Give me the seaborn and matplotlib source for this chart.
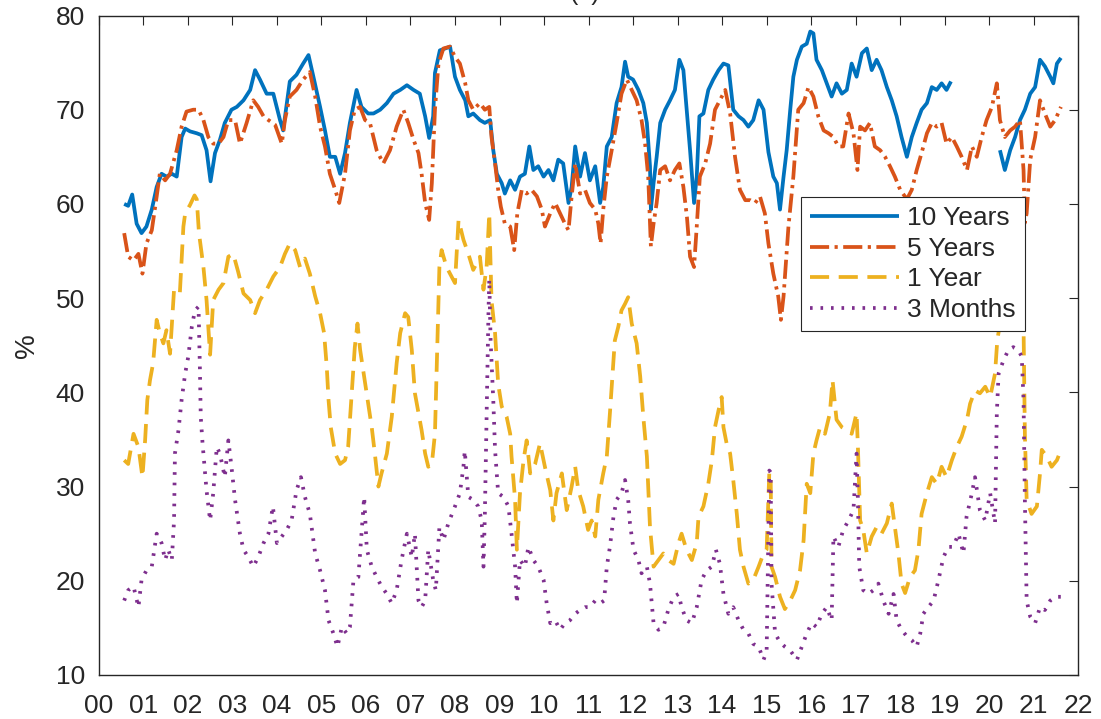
import numpy as np
import pandas as pd
import matplotlib
matplotlib.use("Agg")
import matplotlib.pyplot as plt
import seaborn as sns

# ---------------- data (years since 2000, percent) ----------------
years_10y = [0.57, 0.66, 0.75, 0.85, 0.96, 1.07, 1.19, 1.30, 1.41, 1.52, 1.64, 1.75, 1.86, 1.94,
             2.05, 2.20, 2.31, 2.42, 2.51, 2.61, 2.72, 2.83, 2.98, 3.10, 3.25, 3.40, 3.51, 3.62,
             3.77, 3.92, 4.07, 4.14, 4.29, 4.44, 4.59, 4.71, 4.82, 4.97, 5.08, 5.19, 5.31, 5.42,
             5.53, 5.64, 5.79, 5.90, 6.05, 6.17, 6.32, 6.47, 6.62, 6.77, 6.92, 7.07, 7.21, 7.33,
             7.42, 7.51, 7.55, 7.66, 7.78, 7.89, 8.00, 8.11, 8.23, 8.30, 8.41, 8.56, 8.67, 8.79,
             8.86, 8.94, 9.05, 9.12, 9.24, 9.35, 9.46, 9.57, 9.67, 9.76, 9.87, 9.99, 10.10, 10.21,
             10.32, 10.43, 10.55, 10.62, 10.70, 10.81, 10.92, 11.03, 11.15, 11.26, 11.33, 11.41,
             11.52, 11.63, 11.74, 11.82, 11.89, 12.00, 12.12, 12.23, 12.31, 12.38, 12.40, 12.46,
             12.53, 12.61, 12.72, 12.83, 12.94, 13.04, 13.13, 13.21, 13.28, 13.37, 13.43, 13.49,
             13.58, 13.69, 13.80, 13.92, 14.03, 14.14, 14.25, 14.37, 14.48, 14.59, 14.70, 14.82,
             14.93, 15.04, 15.15, 15.23, 15.30, 15.38, 15.45, 15.53, 15.60, 15.68, 15.79, 15.90,
             15.98, 16.05, 16.12, 16.24, 16.35, 16.46, 16.57, 16.69, 16.80, 16.91, 17.02, 17.14,
             17.25, 17.36, 17.47, 17.58, 17.70, 17.81, 17.92, 18.03, 18.15, 18.26, 18.37, 18.48,
             18.60, 18.71, 18.82, 18.93, 19.04, 19.14, 19.60, 20.24, 20.35, 20.47, 20.58, 20.69,
             20.80, 20.92, 21.03, 21.14, 21.25, 21.37, 21.44, 21.52, 21.61]
rate_10y = [60.0, 59.8, 61.0, 57.9, 56.9, 57.6, 59.4, 61.8, 63.2, 62.9, 63.2, 62.9, 67.1, 68.0,
            67.7, 67.5, 67.3, 65.7, 62.4, 65.4, 66.8, 68.6, 70.0, 70.3, 71.0, 72.1, 74.2, 73.2,
            71.7, 71.7, 68.9, 67.8, 73.0, 73.7, 74.9, 75.8, 73.5, 70.3, 67.8, 65.0, 65.0, 63.2,
            65.4, 68.6, 72.1, 70.3, 69.6, 69.6, 70.0, 70.7, 71.7, 72.1, 72.6, 72.1, 71.7, 69.3,
            67.0, 69.3, 73.9, 76.3, 76.5, 76.7, 73.5, 72.1, 71.0, 69.3, 69.6, 68.9, 68.6, 68.9,
            65.7, 63.2, 62.2, 61.1, 62.5, 61.5, 62.9, 63.2, 66.1, 63.6, 64.0, 62.9, 63.6, 62.5,
            64.7, 64.3, 60.1, 61.8, 66.1, 62.9, 65.4, 62.5, 64.0, 60.1, 61.8, 66.1,
            67.1, 70.7, 72.4, 75.1, 73.5, 73.2, 72.1, 70.7, 68.6, 64.0, 59.4, 62.2,
            65.0, 68.6, 70.0, 71.0, 72.1, 75.3, 74.2, 69.6, 65.7, 60.1, 62.9, 69.3,
            69.6, 72.1, 73.2, 74.2, 74.9, 74.7, 70.0, 69.3, 68.9, 68.2, 68.9, 71.0,
            70.0, 65.5, 62.9, 62.2, 59.4, 62.9, 65.7, 70.0, 73.5, 75.3, 76.7, 77.0,
            78.3, 78.1, 75.3, 74.2, 72.8, 71.4, 72.8, 71.7, 72.1, 74.9, 73.5, 76.0,
            76.5, 74.2, 75.3, 74.2, 72.4, 71.0, 69.3, 67.1, 65.0, 67.1, 68.6, 70.0,
            70.7, 72.4, 72.1, 72.8, 72.1, 73.0, np.nan, 65.7, 63.6, 65.7, 67.1, 68.9,
            70.0, 71.7, 72.4, 75.3, 74.6, 73.5, 72.8, 74.9, 75.5]

years_5y = [0.57, 0.66, 0.78, 0.89, 0.98, 1.07, 1.19, 1.30, 1.37, 1.49, 1.60, 1.75, 1.86, 1.97,
            2.12, 2.24, 2.35, 2.46, 2.57, 2.69, 2.80, 2.91, 3.06, 3.17, 3.32, 3.47, 3.58, 3.70,
            3.81, 3.96, 4.11, 4.18, 4.29, 4.44, 4.59, 4.74, 4.86, 4.97, 5.08, 5.19, 5.31, 5.40,
            5.53, 5.64, 5.75, 5.87, 5.98, 6.09, 6.24, 6.39, 6.54, 6.69, 6.84, 6.95, 7.07, 7.18,
            7.25, 7.33, 7.42, 7.48, 7.55, 7.63, 7.74, 7.89, 8.00, 8.11, 8.23, 8.30, 8.41, 8.56,
            8.67, 8.77, 8.82, 8.90, 8.97, 9.03, 9.12, 9.24, 9.33, 9.40, 9.50, 9.61, 9.72, 9.84,
            9.95, 10.02, 10.14, 10.25, 10.36, 10.47, 10.55, 10.62, 10.70, 10.81, 10.92, 11.03,
            11.15, 11.22, 11.27, 11.33, 11.41, 11.52, 11.63, 11.74, 11.86, 11.97, 12.08, 12.19,
            12.27, 12.34, 12.40, 12.46, 12.53, 12.61, 12.72, 12.83, 12.94, 13.04, 13.13, 13.21,
            13.28, 13.37, 13.43, 13.50, 13.62, 13.73, 13.84, 13.95, 14.07, 14.18, 14.29, 14.40,
            14.52, 14.63, 14.74, 14.85, 14.96, 15.04, 15.15, 15.26, 15.32, 15.38, 15.49, 15.60,
            15.71, 15.83, 15.94, 16.05, 16.16, 16.28, 16.39, 16.50, 16.61, 16.72, 16.84, 16.95,
            17.04, 17.10, 17.21, 17.32, 17.43, 17.55, 17.66, 17.77, 17.88, 18.00, 18.15, 18.26,
            18.37, 18.48, 18.60, 18.71, 18.82, 18.93, 19.04, 19.16, 19.27, 19.38, 19.50, 19.61,
            19.72, 19.83, 19.94, 20.06, 20.17, 20.24, 20.35, 20.47, 20.58, 20.69, 20.77, 20.80,
            20.84, 20.92, 21.03, 21.14, 21.25, 21.37, 21.48, 21.61]
rate_5y = [56.9, 54.4, 54.0, 54.7, 52.6, 55.8, 57.2, 60.8, 63.2, 62.5, 63.2, 65.7, 68.2, 69.8,
           70.0, 70.0, 68.9, 67.1, 66.4, 66.4, 67.1, 68.9, 68.9, 66.4, 68.6, 71.0, 70.3, 69.3,
           68.9, 68.4, 66.4, 68.9, 71.4, 72.1, 73.2, 74.0, 71.4, 68.2, 66.1, 63.2, 61.5, 60.1,
           63.2, 67.8, 70.0, 70.3, 68.9, 68.6, 65.7, 64.3, 65.7, 68.2, 70.0, 68.6, 66.8, 65.4,
           63.2, 60.1, 58.3, 62.2, 70.0, 74.9, 76.5, 76.7, 75.6, 74.9, 72.8, 71.0, 70.0, 70.7,
           70.0, 70.3, 67.1, 64.3, 61.5, 59.7, 57.9, 57.6, 55.1, 59.0, 61.5, 61.1, 61.5, 60.8,
           59.4, 57.6, 59.0, 60.1, 59.0, 57.9, 57.2, 60.8, 64.3, 61.1, 61.5, 60.1,
           59.4, 57.9, 55.8, 59.4, 62.9, 65.7, 68.6, 71.7, 73.2, 72.1, 71.0, 68.9,
           66.4, 62.9, 55.5, 57.9, 60.1, 63.6, 64.0, 62.5, 63.6, 64.3, 61.8, 58.6,
           54.4, 53.3, 57.6, 62.9, 64.3, 66.4, 70.0, 71.0, 72.1, 69.6, 65.0, 61.5,
           60.4, 60.4, 60.1, 60.8, 59.0, 55.8, 52.6, 50.2, 47.7, 50.2, 57.6, 62.9,
           70.0, 70.7, 72.4, 71.4, 69.3, 67.8, 67.5, 67.1, 66.1, 66.1, 69.6, 67.5,
           63.6, 68.2, 67.8, 68.6, 66.1, 65.7, 65.0, 64.0, 62.9, 61.5, 60.5, 61.5,
           63.6, 65.4, 67.5, 68.6, 68.2, 68.6, 66.4, 67.1, 66.1, 65.0, 63.6, 66.1,
           65.0, 67.1, 68.9, 70.3, 72.8, 68.9, 67.1, 67.8, 68.2, 68.9, 63.6, 58.0,
           59.0, 64.7, 67.1, 71.0, 69.6, 68.2, 68.9, 70.3]

years_1y = [0.57, 0.66, 0.78, 0.89, 0.98, 1.04, 1.09, 1.15, 1.22, 1.30, 1.37, 1.45, 1.52, 1.60,
            1.69, 1.82, 1.90, 1.94, 2.05, 2.15, 2.20, 2.25, 2.35, 2.42, 2.50, 2.57, 2.69, 2.80,
            2.91, 3.02, 3.13, 3.25, 3.40, 3.51, 3.62, 3.77, 3.92, 4.07, 4.18, 4.29, 4.41, 4.52,
            4.63, 4.74, 4.86, 4.97, 5.06, 5.12, 5.16, 5.21, 5.31, 5.42, 5.53, 5.60, 5.68, 5.75,
            5.81, 5.87, 5.98, 6.05, 6.13, 6.20, 6.28, 6.35, 6.47, 6.58, 6.69, 6.77, 6.88, 6.95,
            7.03, 7.10, 7.18, 7.25, 7.33, 7.40, 7.48, 7.55, 7.60, 7.65, 7.70, 7.81, 8.00, 8.08,
            8.19, 8.30, 8.41, 8.56, 8.64, 8.71, 8.77, 8.82, 8.90, 8.97, 9.05, 9.16, 9.24, 9.27,
            9.35, 9.39, 9.46, 9.54, 9.61, 9.69, 9.80, 9.91, 10.02, 10.14, 10.21, 10.28, 10.40,
            10.51, 10.62, 10.70, 10.77, 10.88, 10.99, 11.07, 11.15, 11.22, 11.33, 11.41, 11.48,
            11.52, 11.59, 11.67, 11.74, 11.82, 11.89, 11.97, 12.08, 12.16, 12.23, 12.31, 12.34,
            12.38, 12.46, 12.57, 12.68, 12.79, 12.91, 13.02, 13.09, 13.20, 13.32, 13.43, 13.47,
            13.58, 13.69, 13.77, 13.84, 13.92, 13.99, 14.03, 14.10, 14.18, 14.25, 14.33, 14.40,
            14.48, 14.59, 14.70, 14.82, 14.93, 15.00, 15.06, 15.09, 15.11, 15.19, 15.30, 15.41,
            15.53, 15.64, 15.75, 15.83, 15.90, 15.98, 16.05, 16.12, 16.20, 16.31, 16.42, 16.48,
            16.57, 16.69, 16.80, 16.91, 17.02, 17.05, 17.10, 17.17, 17.25, 17.36, 17.47, 17.58,
            17.70, 17.81, 17.88, 17.96, 18.03, 18.11, 18.22, 18.33, 18.41, 18.48, 18.60, 18.71,
            18.82, 18.93, 19.04, 19.16, 19.27, 19.38, 19.50, 19.57, 19.68, 19.79, 19.91, 20.02,
            20.13, 20.18, 20.23, 20.35, 20.50, 20.65, 20.77, 20.80, 20.84, 20.95, 21.07, 21.14,
            21.18, 21.29, 21.40, 21.52, 21.61]
rate_1y = [32.8, 32.4, 35.6, 34.2, 31.0, 34.9, 39.2, 41.3, 43.1, 47.7, 46.3, 45.2, 46.6, 44.1,
           50.9, 50.5, 57.6, 59.0, 59.9, 60.9, 60.5, 56.9, 53.3, 49.8, 44.0, 49.8, 50.9, 51.6,
           54.4, 54.7, 52.8, 50.5, 49.8, 48.4, 49.8, 50.9, 52.3, 53.3, 54.7, 55.8, 55.1, 53.3,
           54.2, 52.6, 50.2, 48.4, 46.3, 42.7, 39.2, 36.3, 33.5, 32.4, 32.8, 34.2, 39.9, 44.8,
           47.3, 44.5, 41.0, 38.8, 36.3, 33.5, 30.0, 31.4, 33.5, 37.4, 43.1, 46.3, 48.4, 48.0,
           44.5, 39.9, 37.8, 36.0, 33.5, 32.1, 32.4, 35.6, 44.5, 53.3, 55.1, 53.3, 51.6, 58.3,
           56.2, 54.7, 53.0, 54.4, 50.9, 53.3, 59.0, 49.8, 46.3, 40.9, 38.5, 37.4, 35.6, 33.2,
           28.6, 23.3, 29.3, 32.8, 34.9, 31.4, 32.4, 34.6, 32.1, 29.6, 26.4, 29.3, 31.4,
           27.5, 30.0, 32.1, 29.6, 27.9, 25.4, 26.4, 24.7, 28.6, 31.4, 33.2, 37.8,
           40.6, 45.5, 47.0, 48.7, 49.4, 50.1, 47.3, 45.2, 41.7, 37.4, 33.2, 30.0,
           25.7, 21.5, 22.2, 22.9, 22.2, 21.8, 24.0, 25.0, 23.3, 22.2, 24.0, 26.8,
           27.9, 30.3, 32.8, 36.3, 38.1, 39.5, 36.3, 34.6, 33.5, 30.7, 27.1, 23.3,
           21.5, 19.7, 20.1, 21.5, 22.9, 23.3, 31.5, 31.4, 21.5, 20.4, 18.3, 17.0,
           17.9, 19.0, 21.1, 24.3, 30.3, 29.3, 33.5, 34.9, 36.3, 35.6, 37.8, 41.3,
           37.1, 36.3, 36.0, 35.6, 37.8, 34.2, 26.4, 25.4, 22.9, 24.7, 25.7, 25.0,
           26.1, 28.2, 25.7, 22.9, 19.7, 18.7, 20.4, 21.1, 23.3, 27.1, 29.3, 31.0,
           30.3, 32.1, 31.0, 32.8, 34.2, 35.3, 37.1, 38.8, 40.2, 39.9, 40.6, 39.5,
           42.0, 45.5, 47.0, 52.0, 55.0, 52.0, 47.0, 35.6, 28.6, 27.1, 27.9, 31.4,
           33.9, 33.2, 32.1, 32.8, 33.9]

years_3m = [0.57, 0.66, 0.78, 0.89, 0.96, 1.07, 1.19, 1.30, 1.41, 1.49, 1.56, 1.64, 1.69, 1.71,
            1.79, 1.86, 1.94, 2.01, 2.09, 2.16, 2.24, 2.27, 2.29, 2.33, 2.42, 2.50, 2.57, 2.65,
            2.72, 2.83, 2.91, 2.98, 3.06, 3.17, 3.25, 3.36, 3.47, 3.58, 3.70, 3.81, 3.91, 4.00,
            4.11, 4.22, 4.33, 4.44, 4.54, 4.63, 4.74, 4.86, 4.97, 5.08, 5.16, 5.27, 5.36, 5.46,
            5.57, 5.64, 5.72, 5.83, 5.90, 5.96, 6.02, 6.13, 6.24, 6.35, 6.47, 6.58, 6.69, 6.80,
            6.92, 7.03, 7.10, 7.18, 7.25, 7.33, 7.40, 7.51, 7.57, 7.65, 7.74, 7.85, 8.00, 8.11,
            8.19, 8.22, 8.30, 8.41, 8.52, 8.60, 8.64, 8.67, 8.71, 8.75, 8.77, 8.80, 8.86, 8.90,
            8.97, 9.09, 9.20, 9.27, 9.35, 9.39, 9.46, 9.57, 9.65, 9.76, 9.87, 9.99, 10.06, 10.14,
            10.25, 10.36, 10.47, 10.58, 10.70, 10.81, 10.92, 11.03, 11.15, 11.26, 11.35, 11.41,
            11.48, 11.56, 11.63, 11.74, 11.82, 11.89, 11.93, 12.01, 12.12, 12.19, 12.31, 12.38,
            12.46, 12.57, 12.68, 12.79, 12.91, 13.02, 13.09, 13.20, 13.32, 13.43, 13.54, 13.65,
            13.77, 13.86, 13.95, 14.03, 14.14, 14.25, 14.37, 14.48, 14.59, 14.70, 14.82, 14.93,
            15.00, 15.06, 15.09, 15.11, 15.19, 15.30, 15.41, 15.53, 15.68, 15.79, 15.90, 16.01,
            16.12, 16.24, 16.35, 16.46, 16.50, 16.61, 16.72, 16.84, 16.95, 17.02, 17.05, 17.08,
            17.17, 17.28, 17.40, 17.51, 17.62, 17.74, 17.85, 17.92, 18.03, 18.15, 18.26, 18.37,
            18.45, 18.52, 18.63, 18.75, 18.86, 18.97, 19.08, 19.19, 19.31, 19.42, 19.49, 19.61,
            19.68, 19.79, 19.91, 20.02, 20.13, 20.17, 20.21, 20.32, 20.43, 20.54, 20.65, 20.73,
            20.77, 20.80, 20.84, 20.92, 21.03, 21.14, 21.25, 21.37, 21.48, 21.61]
rate_3m = [17.9, 19.0, 19.4, 17.2, 20.1, 21.1, 21.5, 25.0, 24.0, 22.2, 23.3, 22.2, 26.4, 33.5,
           36.0, 39.2, 42.0, 43.8, 47.0, 48.7, 49.1, 42.7, 37.4, 34.6, 29.6, 26.4, 29.3, 34.2,
           33.5, 31.0, 34.9, 32.1, 28.6, 25.0, 23.3, 22.5, 21.5, 22.5, 24.0, 25.0, 27.9, 24.0,
           24.7, 25.4, 26.4, 29.6, 31.0, 28.9, 27.1, 22.9, 21.1, 19.0, 15.8, 14.4, 13.0, 15.1,
           14.4, 15.1, 20.1, 20.4, 25.0, 28.9, 23.3, 21.5, 20.4, 19.4, 18.6, 17.6, 19.0, 22.2,
           25.0, 22.5, 25.0, 17.9, 17.2, 17.9, 23.3, 20.1, 19.0, 25.7, 24.3, 26.1, 27.9, 29.3,
           32.1, 33.8, 28.9, 28.6, 27.9, 26.4, 21.5, 26.8, 37.4, 48.0, 52.0, 45.5, 39.2, 33.9,
           29.3, 28.9, 27.9, 25.0, 21.5, 17.6, 22.2, 21.5, 23.6, 22.2, 21.5, 20.1, 17.6, 15.5,
           15.8, 14.8, 15.5, 15.8, 16.5, 16.9, 17.2, 17.2, 17.9, 17.6, 17.9, 21.5,
           23.6, 26.8, 28.6, 29.3, 30.7, 28.6, 26.1, 23.3, 22.2, 20.8, 21.5, 19.7,
           15.5, 14.8, 15.1, 16.9, 18.3, 18.6, 17.2, 15.8, 15.5, 17.2, 20.1, 21.1,
           21.5, 23.3, 21.8, 18.6, 16.5, 17.2, 15.8, 14.8, 14.4, 13.3, 13.0, 11.6,
           12.5, 31.7, 31.5, 19.7, 14.4, 13.5, 13.0, 12.6, 11.6, 13.0, 14.4, 15.5,
           15.1, 16.5, 17.2, 15.8, 24.7, 23.6, 25.4, 26.4, 27.5, 33.5, 28.6, 21.5,
           19.0, 18.6, 19.0, 19.7, 17.9, 16.5, 18.6, 15.8, 14.8, 14.1, 13.7, 13.0,
           14.4, 16.5, 17.2, 17.9, 20.1, 22.5, 23.6, 23.6, 25.0, 22.9, 26.8, 29.3,
           31.0, 27.5, 26.4, 29.3, 26.1, 37.8, 42.0, 43.4, 44.5, 44.8, 44.5, 43.8,
           39.2, 28.6, 17.9, 16.2, 15.5, 17.2, 16.9, 17.9, 18.3, 18.3]

series_names = ["10 Years", "5 Years", "1 Year", "3 Months"]
xtick_values = list(range(0, 23))
xtick_labels = ["00", "01", "02", "03", "04", "05", "06", "07", "08", "09", "10", "11",
                "12", "13", "14", "15", "16", "17", "18", "19", "20", "21", "22"]
ytick_values = [10, 20, 30, 40, 50, 60, 70, 80]

# ---------------- style ----------------
sns.set_style("white")
plt.rcParams["font.family"] = ["Liberation Sans", "DejaVu Sans"]
plt.rcParams["lines.solid_capstyle"] = "butt"
plt.rcParams["lines.dash_capstyle"] = "butt"

W, H = 1101, 719
fig = plt.figure(figsize=(W / 100, H / 100), dpi=100)
fig.patch.set_facecolor("white")
L, R, T, B = 98.8, 1078.3, 15.5, 675.0
ax = fig.add_axes([L / W, 1 - B / H, (R - L) / W, (B - T) / H])
ax.set_facecolor("white")

colors = ["#0072BD", "#D95319", "#EDB120", "#7E2F8E"]
dash_patterns = [None, (5.1, 1.45, 0.85, 1.45), (5.1, 2.55), (0.7, 2.1)]
data_x = [years_10y, years_5y, years_1y, years_3m]
data_y = [rate_10y, rate_5y, rate_1y, rate_3m]

handles = []
for i, name in enumerate(series_names):
    df = pd.DataFrame({"year": data_x[i], "value": data_y[i]})
    df["segment"] = df["value"].isna().cumsum()
    df = df.dropna()
    first_line = None
    for _, part in df.groupby("segment"):
        n_before = len(ax.lines)
        sns.lineplot(data=part, x="year", y="value", ax=ax, color=colors[i],
                     linewidth=2.7, estimator=None, sort=False, legend=False,
                     zorder=2 + i)
        line = ax.lines[n_before]
        if dash_patterns[i] is not None:
            line.set_dashes(dash_patterns[i])
        if first_line is None:
            first_line = line
    handles.append(first_line)

ax.set_xlim(0, 22)
ax.set_ylim(10, 80)
ax.set_xticks(xtick_values)
ax.set_xticklabels(xtick_labels)
ax.set_yticks(ytick_values)
ax.set_xlabel("")
ax.set_ylabel("%", fontsize=20, labelpad=11, color="#262626")

ax.tick_params(axis="both", direction="in", length=6.3, width=0.8, color="#262626",
               labelsize=19, labelcolor="#262626", top=True, right=True)
ax.tick_params(axis="x", pad=14)
ax.tick_params(axis="y", pad=10)
for sp in ax.spines.values():
    sp.set_visible(True)
    sp.set_color("#262626")
    sp.set_linewidth(1.0)

leg = ax.legend(handles, series_names, loc="upper left",
                bbox_to_anchor=(801 / W, 1 - 197 / H), bbox_transform=fig.transFigure,
                fontsize=19, handlelength=3.37, handletextpad=0.3, borderpad=0.35,
                labelspacing=0.25, frameon=True, fancybox=False, framealpha=1,
                edgecolor="#262626", borderaxespad=0)
leg.get_frame().set_linewidth(0.8)
leg.set_zorder(10)

fig.text(585 / W, 1.0, "(a)", ha="center", va="baseline", fontsize=18, color="#262626")

fig.savefig("out.png", dpi=100)
